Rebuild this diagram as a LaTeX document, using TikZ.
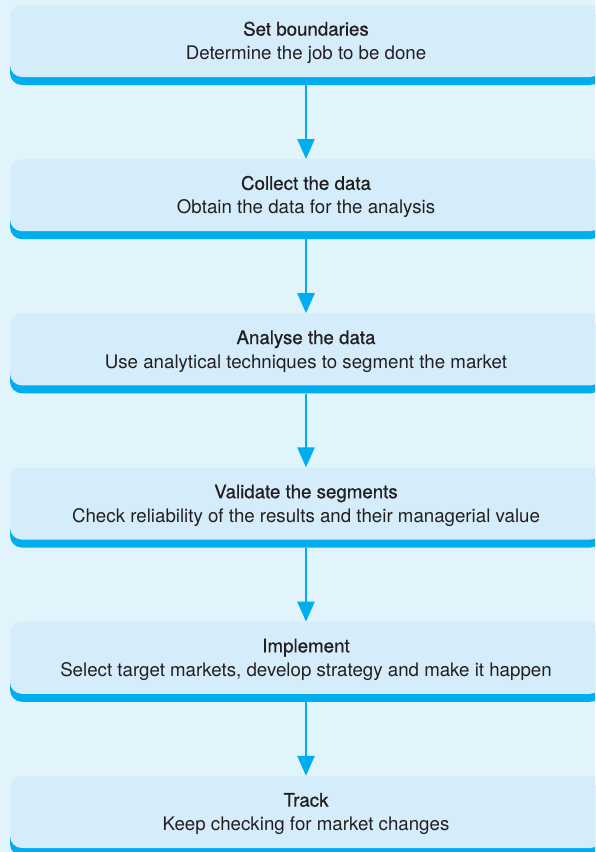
\documentclass[tikz,border=0pt]{standalone}
\usepackage{fontspec}
\setmainfont{TeX Gyre Heros}
\newfontfamily\headfont[FakeBold=0.7]{TeX Gyre Heros}
\usetikzlibrary{arrows.meta}

\definecolor{pagebg}{HTML}{E1F3FB}
\definecolor{boxfill}{HTML}{D5ECFA}
\definecolor{barblue}{HTML}{00AEEF}
\definecolor{ink}{HTML}{231F20}

\tikzset{
  stage/.style={rectangle, rounded corners=12pt, minimum width=592pt,
    minimum height=72pt, inner sep=0pt, fill=boxfill},
  stagebar/.style={stage, fill=barblue},
  head/.style={font=\headfont\fontsize{18.7}{22}\selectfont, text=ink, anchor=mid},
  desc/.style={font=\fontsize{18.7}{22}\selectfont, text=ink, anchor=mid},
  flow/.style={draw=barblue, line width=2.5pt,
    -{Triangle[width=17pt,length=20pt]}}
}

\begin{document}
\begin{tikzpicture}[x=1pt,y=-1pt]
  \useasboundingbox (0,0) rectangle (595,852);
  \fill[pagebg] (0,0) rectangle (595,852);
  \clip (0,0) rectangle (595,852);

  \foreach \head/\desc [count=\k] in {
      {Set boundaries}/{Determine the job to be done},
      {Collect the data}/{Obtain the data for the analysis},
      {Analyse the data}/{Use analytical techniques to segment the market},
      {Validate the segments}/{Check reliability of the results and their managerial value},
      {Implement}/{Select target markets, develop strategy and make it happen},
      {Track}/{Keep checking for market changes}}
  {
    \pgfmathsetmacro{\top}{5+154.2*(\k-1)}
    \node[stagebar] (bar\k) at (306,\top+44) {};
    \node[stage] (box\k) at (306,\top+36) {};
    \node[head] (head\k) at (306,\top+28) {\head};
    \node[desc] (desc\k) at (306,\top+52) {\desc};
  }

  \foreach \k [evaluate=\k as \n using int(\k+1)] in {1,...,5}
    \draw[flow] (bar\k.south) -- (box\n.north);
\end{tikzpicture}
\end{document}
